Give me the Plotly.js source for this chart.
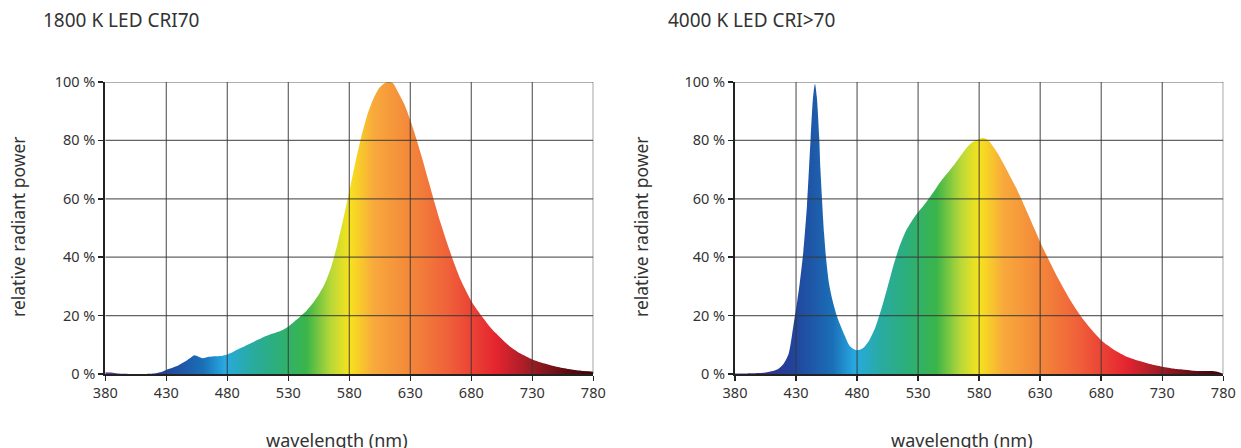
<!DOCTYPE html>
<html>
<head>
<meta charset="utf-8">
<script src="https://cdn.plot.ly/plotly-3.0.1.min.js"></script>
<style>
  html, body { margin: 0; padding: 0; background: #ffffff; }
  #chart { width: 1241px; height: 448px; }
</style>
</head>
<body>
<div id="chart"></div>
<script>
// Relative spectral power distributions of two LED sources (wavelength in nm, power in %)
const wl1800 = [380, 385, 390, 395, 400, 410, 420, 425, 430, 435, 440, 445, 450, 453, 456, 460, 465, 470, 475, 480,
  485, 490, 495, 500, 505, 510, 515, 520, 525, 530, 535, 540, 545, 550, 555, 560, 565, 570, 575, 580,
  585, 590, 595, 600, 605, 610, 613, 616, 620, 625, 630, 635, 640, 645, 650, 655, 660, 665, 670, 675,
  680, 685, 690, 695, 700, 710, 720, 730, 740, 750, 760, 770, 780];
const power1800 = [0.6, 0.5, 0.2, 0.05, 0, 0, 0.2, 0.6, 1.4, 2.1, 3.0, 4.2, 5.6, 6.4, 6.0, 5.4, 5.9, 6.1, 6.2, 6.7,
  7.6, 8.7, 9.7, 10.7, 11.7, 12.7, 13.5, 14.2, 15.0, 16.3, 18.0, 19.8, 21.7, 24.2, 27.2, 31.0, 36.5, 44.0, 53.0, 62.5,
  72.5, 81.5, 89.0, 94.5, 98.2, 99.8, 100, 99.5, 96.5, 92.5, 87.0, 80.5, 73.5, 66.0, 58.5, 51.5, 45.0, 39.0, 33.5, 29.0,
  25.0, 21.8, 19.0, 16.3, 14.0, 10.0, 7.1, 5.0, 3.6, 2.5, 1.7, 1.1, 0.8];

const wl4000 = [380, 390, 400, 405, 410, 415, 420, 424, 428, 431, 433, 436, 439, 442, 444, 445.5, 447, 449, 450, 453,
  455, 457, 460, 463, 466, 470, 474, 479, 482, 485, 490, 495, 500, 505, 510, 515, 520, 525, 530, 535,
  540, 545, 550, 555, 560, 565, 570, 575, 580, 584, 588, 590, 595, 600, 605, 610, 615, 620, 625, 630,
  635, 640, 645, 650, 655, 660, 665, 670, 675, 680, 685, 690, 695, 700, 710, 720, 730, 740, 750, 760,
  770, 775, 778, 780];
const power4000 = [0.2, 0.2, 0.3, 0.5, 0.9, 1.6, 3.6, 7.0, 17.0, 25.0, 31.0, 42.0, 58.0, 81.0, 95.0, 99.4, 95.0, 81.0, 70.0, 48.0,
  38.0, 31.0, 25.0, 20.5, 17.0, 13.0, 9.6, 8.2, 8.3, 8.9, 11.6, 16.0, 22.4, 29.8, 37.5, 44.0, 49.0, 52.5, 55.5, 58.0,
  60.8, 63.8, 66.8, 69.3, 71.9, 74.8, 77.6, 79.5, 80.5, 80.8, 79.8, 78.8, 75.7, 72.0, 68.0, 64.0, 59.5, 54.8, 50.0, 45.2,
  40.8, 36.6, 32.5, 28.7, 25.1, 21.8, 18.8, 16.2, 13.8, 11.6, 9.9, 8.4, 7.2, 6.1, 4.6, 3.4, 2.5, 1.8, 1.4, 1.0,
  1.0, 0.8, 0.4, 0];

const xTicks = [380, 430, 480, 530, 580, 630, 680, 730, 780];
const yTicks = [0, 20, 40, 60, 80, 100];
const yTickText = ['0 %', '20 %', '40 %', '60 %', '80 %', '100 %'];

const titles = ['1800 K LED CRI70', '4000 K LED CRI>70'];
const xTitle = 'wavelength (nm)';
const yTitle = 'relative radiant power';

// Visible-spectrum colour ramp used to fill the curves
const rampWl = [380, 400, 425, 445, 460, 478, 500, 520, 545, 565, 580, 600, 630, 660, 700, 730, 760, 780];
const rampColors = ['#6b3a8c', '#3b2f86', '#22409a', '#1e5aa9', '#1a6fb7', '#27a9e1', '#29aba0', '#2cae7c', '#3ab54a',
  '#b9d838', '#f7e31d', '#f8a93c', '#f3873a', '#f0623a', '#e52530', '#9a1c24', '#5a0a12', '#3a0508'];
const WL_MIN = 380, WL_MAX = 780;
const colorscale = rampWl.map((w, i) => [(w - WL_MIN) / (WL_MAX - WL_MIN), rampColors[i]]);

const FONT = '"Noto Sans", "DejaVu Sans", sans-serif';
const TEXT = '#333333';
const GRID = 'rgba(55,55,55,0.78)';

function spectrumTrace(x, y, xa, ya) {
  return {
    type: 'scatter', mode: 'lines', x: x, y: y, xaxis: xa, yaxis: ya,
    line: { shape: 'spline', smoothing: 0.7, width: 0, color: 'rgba(0,0,0,0)' },
    fill: 'tozeroy',
    fillgradient: { type: 'horizontal', start: WL_MIN, stop: WL_MAX, colorscale: colorscale },
    hoverinfo: 'skip', showlegend: false
  };
}

function xAxis(domain, anchor) {
  return {
    domain: domain, anchor: anchor, range: [WL_MIN, WL_MAX], fixedrange: true,
    tickvals: xTicks, ticktext: xTicks.map(String),
    ticks: 'outside', ticklen: 5, tickwidth: 1.5, tickcolor: '#222222',
    showline: true, linecolor: '#222222', linewidth: 2,
    showgrid: false, zeroline: false, layer: 'above traces',
    tickfont: { family: FONT, size: 14.5, color: TEXT }
  };
}
function yAxis(domain, anchor) {
  return {
    domain: domain, anchor: anchor, range: [0, 100], fixedrange: true,
    tickvals: yTicks, ticktext: yTickText,
    ticks: 'outside', ticklen: 5, tickwidth: 1.5, tickcolor: '#222222',
    showline: true, linecolor: '#222222', linewidth: 2,
    showgrid: false, zeroline: false, layer: 'above traces',
    tickfont: { family: FONT, size: 14.5, color: TEXT }
  };
}

// Grid drawn on top of the coloured fill
function gridShapes(xr, yr) {
  const s = [];
  xTicks.slice(1).forEach(v => s.push({ type: 'line', xref: xr, yref: yr, x0: v, x1: v, y0: 0, y1: 100,
    layer: 'above', line: { color: GRID, width: 1.2 } }));
  yTicks.slice(1).forEach(v => s.push({ type: 'line', xref: xr, yref: yr, x0: WL_MIN, x1: WL_MAX, y0: v, y1: v,
    layer: 'above', line: { color: GRID, width: 1.2 } }));
  return s;
}

const W = 1241, H = 448;
const px = v => v / W, py = v => 1 - v / H;
const yDom = [py(374), py(82)];

function textAnno(text, x, y, size, opts) {
  return Object.assign({ text: text, xref: 'paper', yref: 'paper', x: x, y: y, showarrow: false,
    font: { family: FONT, size: size, color: TEXT } }, opts || {});
}

const layout = {
  width: W, height: H,
  margin: { l: 0, r: 0, t: 0, b: 0 },
  paper_bgcolor: '#ffffff', plot_bgcolor: '#ffffff',
  xaxis: xAxis([px(105.3), px(593.3)], 'y'),
  yaxis: yAxis(yDom, 'x'),
  xaxis2: xAxis([px(735), px(1223.3)], 'y2'),
  yaxis2: yAxis(yDom, 'x2'),
  shapes: gridShapes('x', 'y').concat(gridShapes('x2', 'y2')),
  annotations: [
    textAnno(titles[0], px(41), py(20), 19, { xanchor: 'left', yanchor: 'middle' }),
    textAnno(titles[1], px(666), py(20), 19, { xanchor: 'left', yanchor: 'middle' }),
    textAnno(yTitle, px(18), py(227), 17.5, { xanchor: 'center', yanchor: 'middle', textangle: -90 }),
    textAnno(yTitle, px(641), py(227), 17.5, { xanchor: 'center', yanchor: 'middle', textangle: -90 }),
    textAnno(xTitle, px(337), py(440), 18, { xanchor: 'center', yanchor: 'middle' }),
    textAnno(xTitle, px(962), py(440), 18, { xanchor: 'center', yanchor: 'middle' })
  ]
};

Plotly.newPlot('chart', [
  spectrumTrace(wl1800, power1800, 'x', 'y'),
  spectrumTrace(wl4000, power4000, 'x2', 'y2')
], layout, { staticPlot: true, displayModeBar: false });
</script>
</body>
</html>
